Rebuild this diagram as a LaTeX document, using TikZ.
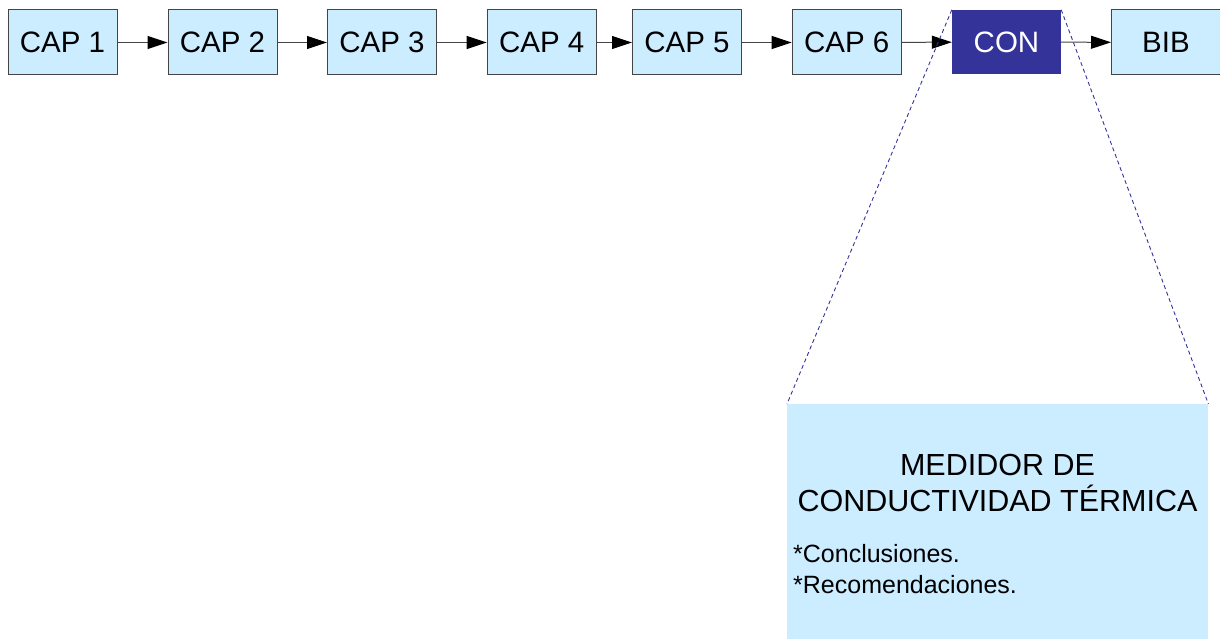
\documentclass[tikz,border=0pt]{standalone}
\usepackage{fontspec}
\setmainfont{Liberation Sans}
\usetikzlibrary{arrows.meta}
\definecolor{lightbl}{HTML}{CCECFF}
\definecolor{darkbl}{HTML}{333399}
\definecolor{edgegray}{HTML}{444444}
\begin{document}
\begin{tikzpicture}[x=1pt,y=-1pt,
  capbox/.style={draw=edgegray, line width=1pt, fill=lightbl, minimum width=109pt, minimum height=65pt, inner sep=0pt, font=\fontsize{29.5}{35}\selectfont, text=black},
  conbox/.style={fill=darkbl, minimum width=109pt, minimum height=64pt, inner sep=0pt, font=\fontsize{29.5}{35}\selectfont, text=white},
  flow/.style={draw=edgegray, line width=1pt, -{Triangle[length=20pt,width=13pt,fill=black,color=black]}},
  zoomline/.style={draw=darkbl, line width=0.9pt, dash pattern=on 4pt off 3pt}
]
\useasboundingbox (0,0) rectangle (1220,639);
\node[capbox] (c1) at (62.5,42.5) {CAP 1};
\node[capbox] (c2) at (222.5,42.5) {CAP 2};
\node[capbox] (c3) at (382,42.5) {CAP 3};
\node[capbox] (c4) at (541.7,42.5) {CAP 4};
\node[capbox] (c5) at (687,42.5) {CAP 5};
\node[capbox] (c6) at (846.7,42.5) {CAP 6};
\node[conbox] (con) at (1006.5,42) {CON};
\node[capbox] (bib) at (1166,42.5) {BIB};
\draw[flow] (c1) -- (c2);
\draw[flow] (c2) -- (c3);
\draw[flow] (c3) -- (c4);
\draw[flow] (c4) -- (c5);
\draw[flow] (c5) -- (c6);
\draw[flow] (c6) -- (con);
\draw[flow] (con) -- (bib);
\node[fill=lightbl, minimum width=421pt, minimum height=236pt, inner sep=0pt, anchor=north west] (det) at (787,404) {};
\node[font=\fontsize{30.5}{36.7}\selectfont, align=center, anchor=base] (title) at (997.5,511.7) {MEDIDOR DE\\CONDUCTIVIDAD TÉRMICA};
\node[font=\fontsize{25}{30.3}\selectfont, align=left, anchor=base west, inner sep=0pt] (items) at (793,593) {*Conclusiones.\\*Recomendaciones.};
\draw[zoomline] (con.north west) -- (det.north west);
\draw[zoomline] (con.north east) -- (det.north east);
\end{tikzpicture}
\end{document}
